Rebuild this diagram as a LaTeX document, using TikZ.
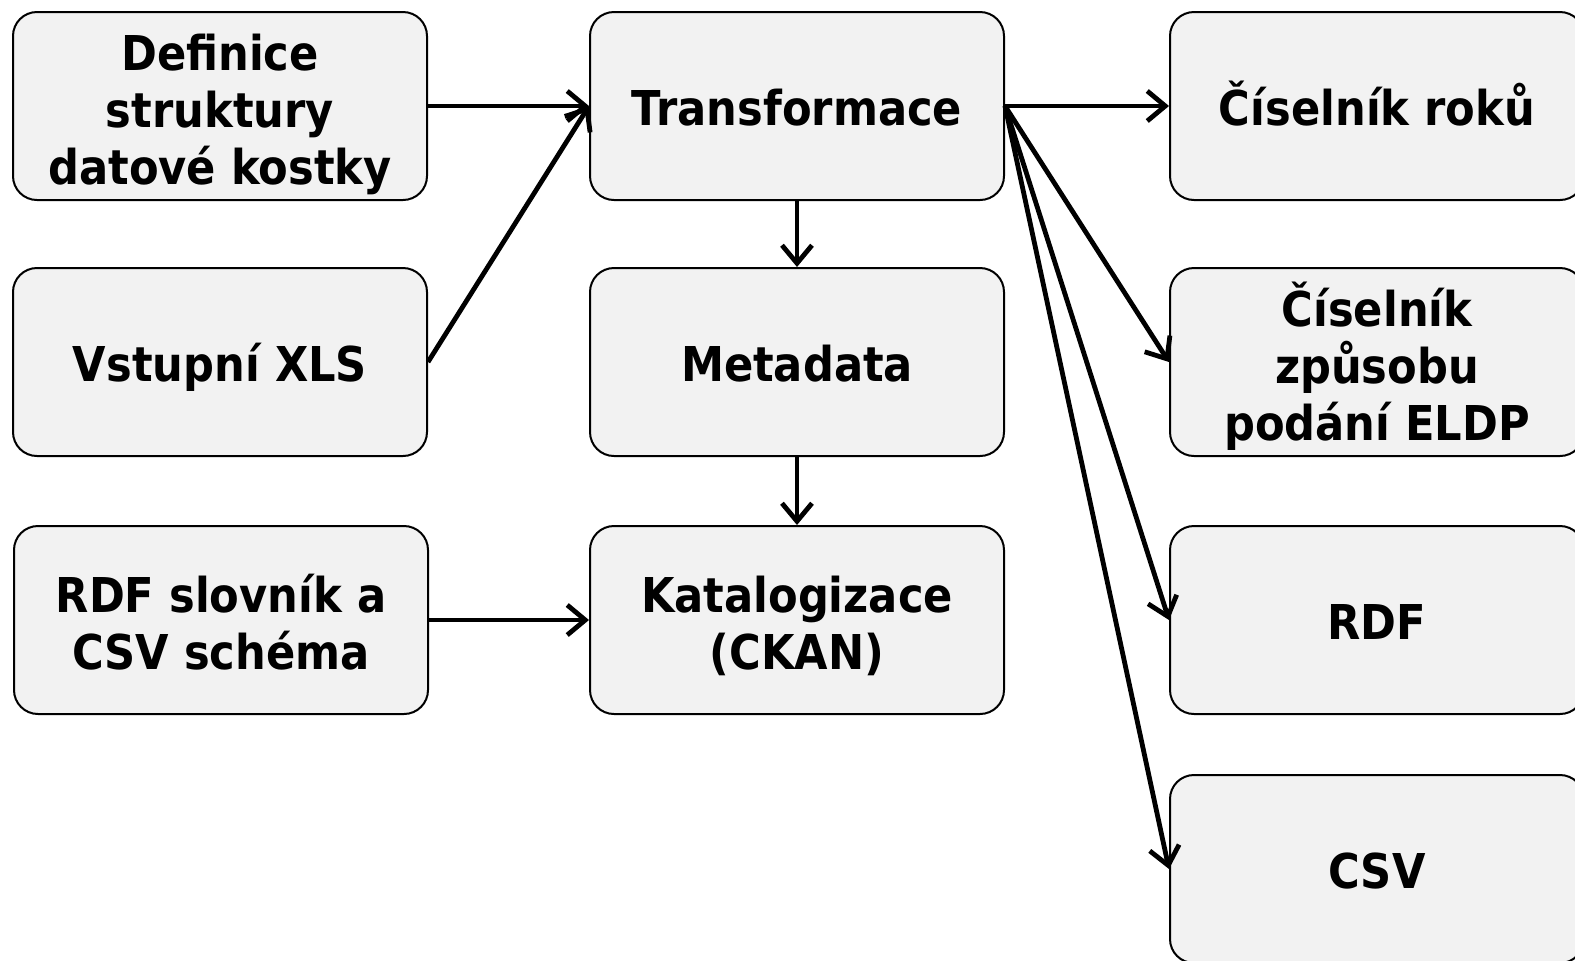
\documentclass[tikz,border=0pt]{standalone}
\usepackage{fontspec}
\setmainfont{DejaVu Sans}[FakeStretch=0.9]
\usetikzlibrary{arrows.meta}

\begin{document}
\begin{tikzpicture}[x=0.5pt, y=-0.5pt,
    box/.style={draw, line width=1pt, fill=black!5, rounded corners=12pt,
        minimum width=207pt, minimum height=94pt, align=center, inner sep=0pt,
        font=\fontsize{24}{28.5}\selectfont\bfseries,
        text height=25pt, text depth=6pt},
    twolines/.style={box, text height=55pt},
    threelines/.style={box, text height=84pt},
    flow/.style={-{Straight Barb[length=9pt, width=15pt]}, line width=2.4pt}]
    \useasboundingbox (0, 0) rectangle (1575, 960);
    \clip (0, 0) rectangle (1575, 960);

    % left column
    \node[threelines] (definice) at (220, 106) {Definice\\struktury\\datové kostky};
    \node[box] (vstup) at (220, 362) {Vstupní XLS};
    \node[twolines] (slovnik) at (221, 620) {RDF slovník a\\CSV schéma};

    % middle column
    \node[box] (transf) at (797, 106) {Transformace};
    \node[box] (meta) at (797, 362) {Metadata};
    \node[twolines] (katalog) at (797, 620) {Katalogizace\\(CKAN)};

    % outputs
    \node[box] (roky) at (1377, 106) {Číselník roků};
    \node[threelines] (zpusob) at (1377, 362) {Číselník\\způsobu\\podání ELDP};
    \node[box] (rdf) at (1377, 620) {RDF};
    \node[box] (csv) at (1377, 869) {CSV};

    \draw[flow] (definice) -- (transf);
    \draw[flow] (vstup.east) -- (transf.west);
    \draw[flow] (slovnik) -- (katalog);
    \draw[flow] (transf) -- (meta);
    \draw[flow] (meta) -- (katalog);

    \foreach \out in {roky, zpusob, rdf, csv} {
        \draw[flow] (transf.east) -- (\out.west);
    }
\end{tikzpicture}
\end{document}
